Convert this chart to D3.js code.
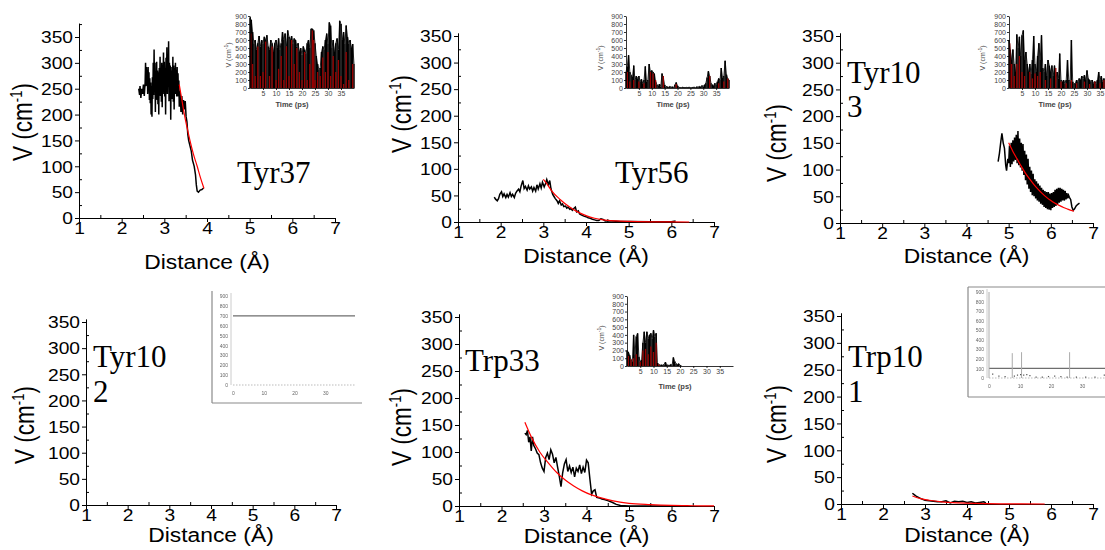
<!DOCTYPE html>
<html>
<head>
<meta charset="utf-8">
<script src="https://cdn.jsdelivr.net/npm/d3@7"></script>
<style>
  body { margin: 0; background: #fff; }
  svg { display: block; }
</style>
</head>
<body>
<div id="chart"></div>
<script>
// tick labels
const distTicks = [1, 2, 3, 4, 5, 6, 7];
const vTicks = [0, 50, 100, 150, 200, 250, 300, 350];
const timeTicks = [5, 10, 15, 20, 25, 30, 35];
const insetVTicks = [0, 100, 200, 300, 400, 500, 600, 700, 800, 900];
const blurTimeTicks = [0, 10, 20, 30];

// main traces: [distance (Å), V (cm-1)]
const tyr37Trace = [[2.40,250],[2.42,238],[2.43,255],[2.45,232],[2.47,250],[2.49,240],[2.51,258],[2.53,236],
  [2.55,262],[2.56,300],[2.57,255],[2.58,292],[2.59,268],[2.60,285],[2.61,240],[2.62,292],[2.63,245],[2.64,282],
  [2.65,228],[2.66,270],[2.67,222],[2.68,262],[2.69,200],[2.70,255],[2.71,196],[2.72,272],[2.73,230],[2.74,300],
  [2.75,238],[2.76,326],[2.77,250],[2.78,300],[2.79,205],[2.80,280],[2.81,230],[2.82,302],[2.83,228],[2.84,285],
  [2.85,220],[2.86,282],[2.87,200],[2.88,290],[2.89,240],[2.90,312],[2.91,236],[2.92,290],[2.93,225],[2.94,300],
  [2.95,214],[2.96,295],[2.97,245],[2.98,320],[2.99,240],[3.00,302],[3.01,235],[3.02,290],[3.03,200],[3.04,310],
  [3.05,245],[3.06,330],[3.07,240],[3.08,310],[3.09,255],[3.10,342],[3.11,226],[3.12,300],[3.13,240],[3.14,295],
  [3.15,190],[3.16,285],[3.17,232],[3.18,292],[3.19,230],[3.20,312],[3.21,225],[3.22,295],[3.23,210],[3.24,290],
  [3.25,240],[3.26,300],[3.27,240],[3.28,285],[3.29,235],[3.30,292],[3.31,235],[3.32,280],[3.33,240],[3.34,266],
  [3.35,215],[3.37,246],[3.39,205],[3.41,236],[3.43,200],[3.45,228],[3.47,210],[3.49,226],[3.51,196],[3.53,186],
  [3.55,162],[3.57,150],[3.60,140],[3.63,130],[3.66,112],[3.70,100],[3.73,84],[3.75,64],[3.77,52],[3.80,50],
  [3.84,54],[3.88,55],[3.92,58]];
const tyr37Fit = [[3.35,258],[3.40,234],[3.47,200],[3.53,176],[3.60,150],[3.68,124],[3.77,100],[3.85,77],[3.93,57]];

const tyr56Trace = [[1.85,47],[1.88,43],[1.92,40],[1.95,44],[1.98,52],[2.02,57],[2.05,48],[2.08,53],[2.12,46],[2.15,52],
  [2.18,47],[2.22,55],[2.25,48],[2.28,52],[2.32,46],[2.35,54],[2.38,58],[2.42,62],[2.45,57],[2.48,68],[2.52,78],
  [2.55,63],[2.58,67],[2.62,60],[2.65,68],[2.68,62],[2.72,66],[2.75,58],[2.78,65],[2.82,58],[2.85,70],[2.88,62],
  [2.92,72],[2.95,64],[2.98,75],[3.02,66],[3.05,72],[3.08,80],[3.12,70],[3.15,78],[3.18,62],[3.22,52],[3.25,48],
  [3.28,44],[3.32,40],[3.35,35],[3.38,40],[3.42,32],[3.45,34],[3.48,29],[3.52,30],[3.55,26],[3.58,28],[3.62,24],
  [3.65,25],[3.68,22],[3.72,26],[3.75,28],[3.78,19],[3.82,21],[3.85,15],[3.90,13],[3.95,11],[4.00,10],[4.05,8],
  [4.10,7],[4.15,5],[4.20,4],[4.25,3],[4.30,3],[4.35,6],[4.40,5],[4.45,2],[4.60,2],[4.80,1],[5.00,1],[5.50,0.5],[6.00,0.5],[6.10,2]];
const tyr56Fit = [[3.00,80],[3.10,70],[3.20,58],[3.40,42],[3.60,29],[3.80,19],[4.00,12],[4.20,7],[4.40,4],[4.70,2],[5.00,1],[5.50,0.3],[6.00,0.1],[6.42,0]];

const tyr103Trace = [[4.75,115],[4.78,130],[4.81,150],[4.84,168],[4.87,150],[4.90,140],[4.93,108],[4.95,98],[4.98,120],
  [5.00,112],[5.02,145],[5.04,105],[5.06,150],[5.08,110],[5.10,155],[5.12,115],[5.14,160],[5.16,118],[5.18,165],
  [5.20,112],[5.22,172],[5.24,108],[5.26,158],[5.28,104],[5.30,150],[5.32,98],[5.34,148],[5.36,90],[5.38,135],
  [5.40,80],[5.42,128],[5.44,72],[5.46,120],[5.48,64],[5.50,105],[5.52,58],[5.54,98],[5.56,52],[5.58,92],[5.60,50],
  [5.62,82],[5.64,46],[5.66,78],[5.68,42],[5.70,74],[5.72,40],[5.74,70],[5.76,36],[5.78,66],[5.80,34],[5.82,62],
  [5.84,30],[5.86,60],[5.88,28],[5.90,58],[5.92,26],[5.94,58],[5.96,25],[5.98,55],[6.00,24],[6.02,56],[6.04,28],
  [6.06,58],[6.08,30],[6.10,62],[6.12,32],[6.14,64],[6.16,34],[6.18,66],[6.20,38],[6.22,66],[6.24,40],[6.26,64],
  [6.28,42],[6.30,62],[6.32,42],[6.34,60],[6.36,44],[6.38,56],[6.40,46],[6.42,52],[6.44,48],[6.47,44],[6.50,30],
  [6.53,24],[6.56,26],[6.60,32],[6.64,35],[6.68,37]];
const tyr103Fit = [[5.00,150],[5.10,134],[5.20,120],[5.30,106],[5.40,93],[5.50,82],[5.60,72],[5.70,63],[5.80,55],
  [5.90,48],[6.00,42],[6.10,37],[6.20,33],[6.30,29],[6.40,26],[6.55,22]];

const trp33Trace = [[2.55,135],[2.58,132],[2.61,140],[2.64,118],[2.67,128],[2.70,102],[2.73,128],[2.76,112],[2.80,106],
  [2.84,98],[2.88,95],[2.92,80],[2.96,70],[3.00,64],[3.04,90],[3.08,98],[3.12,86],[3.16,104],[3.20,96],[3.24,80],
  [3.28,90],[3.32,72],[3.36,55],[3.40,36],[3.44,62],[3.48,78],[3.52,86],[3.56,64],[3.60,74],[3.64,62],[3.68,72],
  [3.72,54],[3.76,70],[3.80,64],[3.84,76],[3.88,60],[3.92,72],[3.96,62],[4.00,85],[4.04,80],[4.08,50],[4.12,22],
  [4.16,28],[4.20,30],[4.24,16],[4.30,15],[4.36,13],[4.42,12],[4.50,10],[4.60,7],[4.70,3],[4.80,1],[5.00,0],[5.50,0],[6.00,0]];
const trp33Fit = [[2.55,155],[2.70,128],[2.90,100],[3.10,80],[3.30,62],[3.50,48],[3.70,37],[3.90,28],[4.10,21],
  [4.30,16],[4.60,10],[5.00,5],[5.50,2.5],[6.00,1],[6.50,0.5],[7.00,0.2]];

const trp101Trace = [[2.70,20],[2.75,17],[2.80,14],[2.90,10],[3.00,7],[3.10,6],[3.20,5],[3.30,4],[3.40,4],[3.50,6],[3.60,2],
  [3.70,5],[3.80,4],[3.90,5],[4.00,3],[4.10,4],[4.20,2],[4.30,3],[4.40,4],[4.45,2]];
const trp101Fit = [[2.70,15],[2.90,10],[3.10,7],[3.40,4],[3.80,2],[4.20,1],[4.80,0.3],[5.30,0.1],[5.85,0]];

// insets: V (cm-1) every 0.5 ps from 0 ps, plus red bars [time, V]
const insetStep = 0.5;
const tyr37InsetBlack = [880,850,700,560,600,480,560,650,520,600,560,640,600,660,520,480,600,560,450,560,600,500,620,480,
  560,700,600,680,520,720,640,600,650,560,620,600,520,560,450,500,420,520,480,430,560,600,500,740,740,720,560,400,300,
  230,250,450,520,480,600,680,560,820,780,500,600,450,560,620,480,840,800,600,700,560,780,640,560,600,500,550,300];
const tyr37InsetRed = [[0.3,680],[1,300],[2,150],[3,520],[4,150],[5,200],[6,580],[7.5,150],[8.5,520],[10,100],[11,240],
  [12,400],[13,100],[14,520],[15,150],[16,600],[17,300],[18,500],[19,200],[20,100],[21,450],[22,100],[23,300],[24,720],
  [24.5,600],[25,100],[26,200],[27,150],[28,380],[29,200],[30,450],[31,150],[32,400],[33,200],[34,350],[35,150],[36,50],
  [37,450],[38,100],[39.5,300]];

const tyr56InsetBlack = [200,270,410,200,160,140,280,100,150,120,150,80,110,60,100,270,80,100,300,200,220,200,180,80,40,30,
  50,20,180,120,40,20,15,10,20,10,15,5,40,70,30,10,5,5,10,5,5,8,5,10,5,5,8,10,5,15,10,20,15,30,20,40,60,130,210,150,60,40,
  30,60,40,80,120,100,250,130,150,340,170,120,100];
const tyr56InsetRed = [[0.5,200],[1.5,80],[3,100],[5,80],[7,60],[9.5,200],[10.5,180],[11.5,100],[14.5,150],[19.5,50],
  [32.5,150],[36,60],[38,80],[39.5,120]];

const tyr103InsetBlack = [600,480,350,480,300,200,670,500,640,400,660,720,350,450,300,200,300,180,350,650,300,200,400,560,
  350,660,250,200,300,150,350,280,200,280,150,280,100,200,120,430,100,80,100,60,100,350,100,80,600,80,50,60,100,80,120,100,
  150,120,160,100,220,120,100,80,100,60,80,60,100,200,100,150,80,120,100,150,270,180,200,150,120];
const tyr103InsetRed = [[0.3,560],[1,300],[2,150],[3,300],[4,400],[5,200],[6,150],[8,200],[9,120],[10,180],[11,150],
  [12,200],[14,100],[16,120],[18,250],[20,80],[22,60],[24,100],[26,60],[29,80],[31,50],[33,80],[35,60],[36.5,100],[38.5,120]];

const trp33InsetBlack = [200,180,140,80,60,400,150,380,420,120,50,80,300,440,300,440,350,400,420,350,460,380,420,40,20,10,
  15,10,20,50,15,10,10,20,10,110,60,30,20,30,10,3];
const trp33InsetRed = [[0.5,130],[1.5,90],[2.5,100],[3.5,150],[5,50],[6,200],[7,220],[8,150],[9,250],[10,180],[11,300],[12,20]];

const tyr102InsetLevel = 700;
const trp101InsetSpikes = [[0,900],[7.5,260],[10.5,270],[26,270]];
const trp101InsetDots = [[1,40],[3,20],[5,15],[8,20],[9,30],[10,35],[11,30],[12,35],[13,25],[15,10],[17,10],[19,15],
  [21,20],[23,15],[25,10],[28,10],[31,10],[34,10],[37,30],[39,20]];

const W = 1105, H = 550;
const svg = d3.select('#chart').append('svg').attr('width', W).attr('height', H);
const defs = svg.append('defs');
defs.append('filter').attr('id', 'soft').append('feGaussianBlur').attr('stdDeviation', 0.55);

const sans = 'Arial, "Liberation Sans", sans-serif';
const serif = '"Times New Roman", "Liberation Serif", serif';

const panels = [
  { trace: tyr37Trace, fit: tyr37Fit, x1: 79, x7: 335, y0: 218, y350: 37, yTop: 377,
    title: 269, ylab: [23, 122], name: [['Tyr37', 237, 183]] },
  { trace: tyr56Trace, fit: tyr56Fit, x1: 458, x7: 714, y0: 222, y350: 36, yTop: 356,
    title: 263, ylab: [402, 114], name: [['Tyr56', 615, 183]] },
  { trace: tyr103Trace, fit: tyr103Fit, x1: 840, x7: 1093, y0: 223, y350: 36, yTop: 356,
    title: 263, ylab: [777, 143], name: [['Tyr10', 847, 83], ['3', 847, 117]] },
  { trace: [], fit: [], x1: 86, x7: 336, y0: 505, y350: 322, yTop: 356,
    title: 542, ylab: [25, 425], name: [['Tyr10', 93, 367], ['2', 93, 402]] },
  { trace: trp33Trace, fit: trp33Fit, x1: 459, x7: 714, y0: 506, y350: 317, yTop: 356,
    title: 543, ylab: [402, 427], name: [['Trp33', 465, 371]] },
  { trace: trp101Trace, fit: trp101Fit, x1: 841, x7: 1093, y0: 504, y350: 316, yTop: 356,
    title: 542, ylab: [777, 424], name: [['Trp10', 848, 367], ['1', 848, 402]] }
];

function stretchText(sel, sx) {
  sel.each(function () {
    const t = d3.select(this);
    const x = +t.attr('x') || 0;
    t.attr('x', x / sx).attr('transform', `scale(${sx},1)`);
  });
}

function drawPanel(p) {
  const g = svg.append('g');
  const x = d3.scaleLinear().domain([1, 7]).range([p.x1, p.x7]);
  const y = d3.scaleLinear().domain([0, 350]).range([p.y0, p.y350]);
  const yFull = y.copy().domain([0, p.yTop]).range([p.y0, y(p.yTop)]);

  // minor ticks, inward
  g.append('g').attr('transform', `translate(0,${p.y0})`)
    .call(d3.axisBottom(x).tickValues(d3.range(1.5, 7, 1)).tickSize(-3).tickSizeOuter(0).tickFormat(''))
    .call(a => a.select('.domain').remove());
  g.append('g').attr('transform', `translate(${p.x1},0)`)
    .call(d3.axisLeft(yFull).tickValues(d3.range(25, p.yTop, 50)).tickSize(-3).tickSizeOuter(0).tickFormat(''))
    .call(a => a.select('.domain').remove());

  const xa = g.append('g').attr('transform', `translate(0,${p.y0})`)
    .call(d3.axisBottom(x).tickValues(distTicks).tickFormat(d3.format('d')).tickSize(4).tickSizeOuter(0).tickPadding(1));
  xa.selectAll('text').attr('font-family', sans).attr('font-size', 16).attr('fill', '#000');
  stretchText(xa.selectAll('text'), 1.2);

  const ya = g.append('g').attr('transform', `translate(${p.x1},0)`)
    .call(d3.axisLeft(yFull).tickValues(vTicks).tickFormat(d3.format('d')).tickSize(4).tickSizeOuter(0).tickPadding(2));
  ya.selectAll('text').attr('font-family', sans).attr('font-size', 16).attr('fill', '#000').attr('dy', '0.36em');
  stretchText(ya.selectAll('text'), 1.2);
  g.selectAll('.domain, .tick line').attr('stroke', '#000');

  const line = d3.line().x(d => x(d[0])).y(d => y(d[1]));
  if (p.trace.length) {
    g.append('path').attr('d', line(p.trace)).attr('fill', 'none')
      .attr('stroke', '#000').attr('stroke-width', 1.5).attr('stroke-linejoin', 'miter');
  }
  if (p.fit.length) {
    g.append('path').attr('d', line.curve(d3.curveMonotoneX)(p.fit)).attr('fill', 'none')
      .attr('stroke', '#ff0000').attr('stroke-width', 1.2);
  }

  // axis titles
  g.append('text').attr('transform', `translate(${(p.x1 + p.x7) / 2},${p.title}) scale(1.17,1)`)
    .attr('text-anchor', 'middle').attr('font-family', sans).attr('font-size', 19.5).text('Distance (Å)');
  const yl = g.append('text')
    .attr('transform', `translate(${p.ylab[0]},${p.ylab[1]}) scale(1.2,1) rotate(-90)`)
    .attr('text-anchor', 'middle').attr('dy', '0.35em').attr('font-family', sans).attr('font-size', 22.5);
  yl.append('tspan').text('V (cm');
  yl.append('tspan').attr('dy', -9).attr('font-size', 13).text('-1');
  yl.append('tspan').attr('dy', 9).text(')');

  p.name.forEach(n => {
    g.append('text').attr('x', n[1]).attr('y', n[2]).attr('font-family', serif)
      .attr('font-size', 31).text(n[0]);
  });
}

function drawInset(o) {
  const g = svg.append('g');
  const x = d3.scaleLinear().domain([0, 40]).range([o.x0, o.x40]);
  const y = d3.scaleLinear().domain([0, 900]).range([o.y0, o.y900]);
  g.selectAll('line.blk').data(o.black).join('line').attr('class', 'blk')
    .attr('x1', (d, i) => x(i * insetStep)).attr('x2', (d, i) => x(i * insetStep))
    .attr('y1', y(0)).attr('y2', d => y(d)).attr('stroke', '#000').attr('stroke-width', 1.5);
  g.append('path').attr('d', d3.line().x((d, i) => x(i * insetStep)).y(d => y(d))(o.black))
    .attr('fill', 'none').attr('stroke', '#000').attr('stroke-width', 0.8);
  g.selectAll('line.red').data(o.red).join('line').attr('class', 'red')
    .attr('x1', d => x(d[0])).attr('x2', d => x(d[0]))
    .attr('y1', y(0)).attr('y2', d => y(d[1])).attr('stroke', '#990000').attr('stroke-width', 1.3);

  const ya = g.append('g').attr('transform', `translate(${o.x0},0)`)
    .call(d3.axisLeft(y).tickValues(insetVTicks).tickSize(2).tickSizeOuter(0).tickPadding(1));
  ya.selectAll('text').attr('font-family', sans).attr('font-size', 7).attr('fill', '#444');
  const xa = g.append('g').attr('transform', `translate(0,${o.y0})`)
    .call(d3.axisBottom(x).tickValues(timeTicks).tickSize(2).tickSizeOuter(0).tickPadding(1));
  xa.selectAll('text').attr('font-family', sans).attr('font-size', 7).attr('fill', '#444');
  g.selectAll('.domain, .tick line').attr('stroke', '#000').attr('stroke-width', 0.8);

  g.append('text').attr('x', o.tl[0]).attr('y', o.tl[1]).attr('text-anchor', 'middle')
    .attr('font-family', sans).attr('font-size', 7.5).attr('font-weight', 'bold').attr('fill', '#444').text('Time (ps)');
  const yl = g.append('text').attr('transform', `translate(${o.yl[0]},${o.yl[1]}) rotate(-90)`)
    .attr('text-anchor', 'middle').attr('dy', '0.35em').attr('font-family', sans).attr('font-size', 7).attr('fill', '#444');
  yl.append('tspan').text('V (cm');
  yl.append('tspan').attr('dy', -3).attr('font-size', 5).text('-1');
  yl.append('tspan').attr('dy', 3).text(')');
}

function drawBlurInset(o) {
  const g = svg.append('g').attr('filter', 'url(#soft)');
  const x = d3.scaleLinear().domain([0, 40]).range([o.x0, o.x40]);
  const y = d3.scaleLinear().domain([0, 900]).range([o.y0, o.y900]);
  // frame
  o.frame.forEach(f => g.append('line').attr('x1', f[0]).attr('y1', f[1]).attr('x2', f[2]).attr('y2', f[3])
    .attr('stroke', '#8a8a8a').attr('stroke-width', 1.2));
  g.append('line').attr('x1', x(0) - 2).attr('x2', x(0) - 2).attr('y1', y(0)).attr('y2', y(900) - 3)
    .attr('stroke', '#ccc');
  const ya = g.append('g').attr('transform', `translate(${x(0) - 4},0)`)
    .call(d3.axisLeft(y).tickValues(insetVTicks).tickSize(0).tickPadding(1));
  ya.select('.domain').remove();
  ya.selectAll('text').attr('font-family', sans).attr('font-size', 5).attr('fill', '#666');
  const xa = g.append('g').attr('transform', `translate(0,${o.y0 + 5})`)
    .call(d3.axisBottom(x).tickValues(blurTimeTicks).tickSize(0).tickPadding(1));
  xa.select('.domain').remove();
  xa.selectAll('text').attr('font-family', sans).attr('font-size', 5).attr('fill', '#666');
  g.append('line').attr('x1', x(0)).attr('x2', x(40)).attr('y1', y(0)).attr('y2', y(0))
    .attr('stroke', '#bbb').attr('stroke-dasharray', '1.5,1.5');
  if (o.level != null) {
    g.append('line').attr('x1', x(0)).attr('x2', o.levelEnd).attr('y1', y(o.level)).attr('y2', y(o.level))
      .attr('stroke', '#6e6e6e').attr('stroke-width', 1.3);
  }
  if (o.spikes) {
    g.selectAll('line.sp').data(o.spikes).join('line').attr('class', 'sp')
      .attr('x1', d => x(d[0])).attr('x2', d => x(d[0])).attr('y1', y(0)).attr('y2', d => y(d[1]))
      .attr('stroke', '#aaa').attr('stroke-width', 1);
    g.selectAll('line.dt').data(o.dots).join('line').attr('class', 'dt')
      .attr('x1', d => x(d[0])).attr('x2', d => x(d[0]) + 1.2).attr('y1', d => y(d[1])).attr('y2', d => y(d[1]))
      .attr('stroke', '#555').attr('stroke-width', 1.2);
  }
}

panels.forEach(drawPanel);

drawInset({ black: tyr37InsetBlack, red: tyr37InsetRed, x0: 250, x40: 354, y0: 88, y900: 16, tl: [292, 107], yl: [229, 55] });
drawInset({ black: tyr56InsetBlack, red: tyr56InsetRed, x0: 626, x40: 729, y0: 88, y900: 16, tl: [673, 107], yl: [601, 58] });
drawInset({ black: tyr103InsetBlack, red: tyr103InsetRed, x0: 1009, x40: 1113, y0: 88, y900: 16, tl: [1055, 107], yl: [983, 58] });
drawInset({ black: trp33InsetBlack, red: trp33InsetRed, x0: 627, x40: 733, y0: 366, y900: 296, tl: [675, 389], yl: [602, 338] });

drawBlurInset({ x0: 233, x40: 356, y0: 385, y900: 296, level: tyr102InsetLevel, levelEnd: 355,
  frame: [[212, 291, 212, 403], [212, 403, 362, 403]] });
drawBlurInset({ x0: 989, x40: 1113, y0: 378, y900: 292, level: 100, levelEnd: 1105,
  spikes: trp101InsetSpikes, dots: trp101InsetDots,
  frame: [[968, 287, 968, 397], [968, 287, 1105, 287], [968, 397, 1105, 397]] });
</script>
</body>
</html>
